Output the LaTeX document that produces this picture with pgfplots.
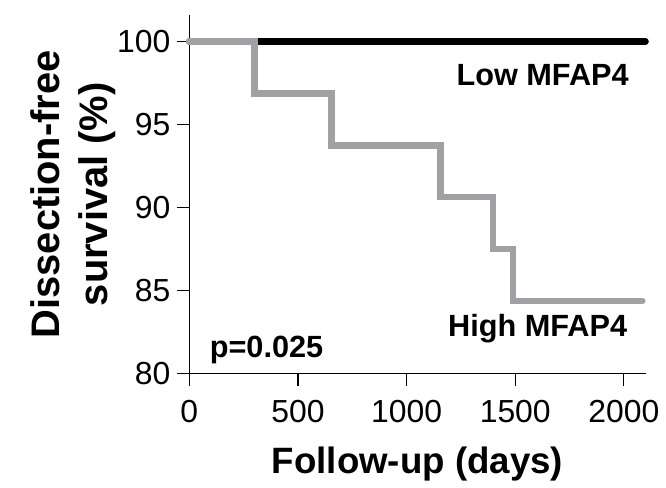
\documentclass[border=0pt]{standalone}
\usepackage{fontspec}
\setmainfont{Liberation Sans}
\usepackage{pgfplots}
\pgfplotsset{compat=1.18}
\definecolor{kmgray}{RGB}{160,161,165}

\begin{document}
\begin{tikzpicture}
  \begin{axis}[
    name=ax,
    scale only axis,
    width=229pt, height=180pt,
    xmin=0, xmax=2100,
    ymin=80, ymax=101.6,
    axis x line=bottom, axis y line=left,
    axis line style={-, line width=0.7pt},
    xtick={0,500,1000,1500,2000},
    ytick={80,85,90,95,100},
    tick align=outside,
    major tick length=6pt,
    tick style={black, line width=0.6pt},
    /pgf/number format/assume math mode=true,
    /pgf/number format/1000 sep={},
    ticklabel style={font=\fontsize{16}{18}\selectfont},
    xticklabel shift=4pt,
    xlabel={\textbf{Follow-up (days)}},
    ylabel={\textbf{Dissection-free}\\\textbf{survival (\%)}},
    ylabel style={align=center, font=\fontsize{20}{24}\selectfont, yshift=-6pt},
    xlabel style={font=\fontsize{18.4}{20}\selectfont, yshift=-5pt},
    clip=false,
  ]
    \addplot[black, line width=3.2pt, line cap=round] coordinates {
      (0,100)(2100,100)
    };
    \addplot[kmgray, line width=3.3pt, const plot, line cap=round] coordinates {
      (0,100)(300,96.875)(655,93.75)(1157,90.625)(1397,87.5)(1490,84.375)(2085,84.375)
    };
    \node[font=\bfseries\fontsize{15.4}{17}\selectfont] at (axis cs:1626,98.0) {Low MFAP4};
    \node[font=\bfseries\fontsize{15.4}{17}\selectfont] at (axis cs:1603,82.7) {High MFAP4};
    \node[font=\bfseries\fontsize{15.4}{17}\selectfont, anchor=west] at (axis cs:62,81.4) {p=0.025};
  \end{axis}
  \path (ax.north west) ++(-95pt,7.5pt);
  \path (ax.south east) ++(9pt,-53.5pt);
\end{tikzpicture}
\end{document}
